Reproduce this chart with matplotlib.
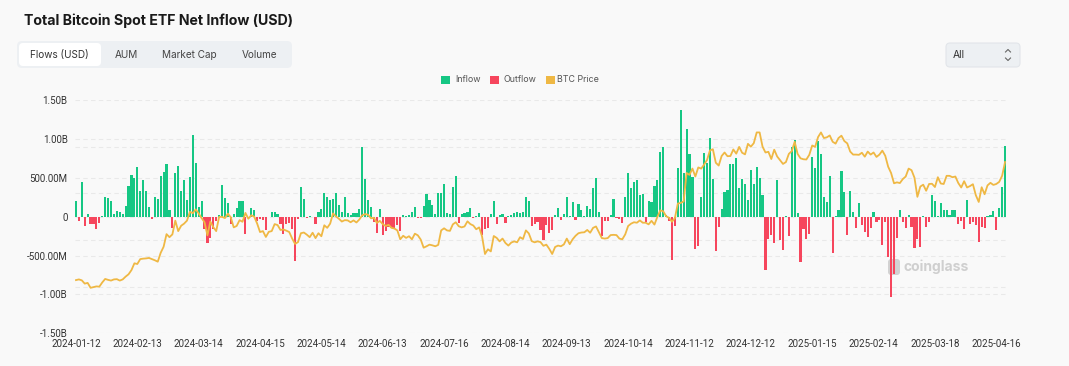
import matplotlib
matplotlib.use('Agg')
import matplotlib.pyplot as plt
import numpy as np
import pandas as pd
from matplotlib.patches import FancyBboxPatch, Rectangle
from matplotlib.lines import Line2D

W, H, DPI = 1069, 366, 100

# ---------------- data ----------------
start_date = '2024-01-12'
end_date = '2025-04-22'
market_holidays = ['2024-01-15', '2024-02-19', '2024-03-29', '2024-05-27', '2024-06-19',
                   '2024-07-04', '2024-09-02', '2024-11-28', '2024-12-25', '2025-01-01',
                   '2025-01-09', '2025-01-20', '2025-02-17', '2025-04-18']

# daily net flow, million USD
flows_musd = [
    196, -57, 448, -126, 39, -91, -100, -165, -87, 9,
    252, 244, 196, 35, 74, 61, 30, 139, 400, 539,
    496, 639, 335, 474, 326, 130, -35, 248, 231, 518,
    579, 674, 87, -144, 566, 648, 326, 470, 218, 505,
    1053, 687, 130, 196, -161, -335, -270, -155, -57, 15,
    413, 239, 174, -91, 35, 109, 204, 196, -226, -18,
    117, 83, -52, -35, -48, -174, -5, 57, 57, 30,
    -100, -226, -91, -87, -161, -574, -35, 378, 222, -13,
    9, -5, -91, 57, 96, 305, 257, 209, 231, 305,
    152, 65, 248, 43, 22, 43, 48, 100, 892, 487,
    209, 122, -74, -209, 96, -230, -187, -130, -142, -151,
    -108, -181, 22, 13, 20, 65, 130, -22, -22, 139,
    291, 209, 148, 35, 305, 300, 422, 43, 35, 383,
    526, -83, 35, 43, 57, 117, -22, 5, 43, -239,
    -165, -152, 30, 200, -91, 22, 35, -83, 5, 22,
    43, 65, 52, 65, 248, 196, -126, -100, -74, -174,
    -300, -108, -216, -172, 22, 113, -48, 35, 257, 9,
    183, -48, 161, 87, 9, 135, 100, 365, 496, 57,
    -248, -56, -56, 22, 226, -22, -30, -87, 252, 557,
    374, 448, 470, 274, 291, -74, 196, 183, 400, 470,
    826, 900, 22, -56, -552, -117, 626, 1370, 566, 1131,
    805, 513, -413, -378, 252, 813, 696, 1014, 483, -444,
    -130, 100, 318, 348, 674, 683, 748, 370, 479, 426,
    218, 596, 426, 639, 492, 274, -687, -283, -230, -339,
    474, -305, -426, 9, -252, 900, 987, 52, -578, -161,
    -291, -218, 761, 631, 979, 805, 248, 187, 522, -465,
    13, 83, 587, 318, -239, 335, 65, -144, 170, -109,
    -196, -257, -144, 65, -65, -43, -370, -74, -522, -1035,
    -740, -280, 87, -74, -143, 22, -134, -409, -283, -390,
    13, -135, -65, 274, 204, 12, 170, 83, 84, 27,
    89, 89, -93, -60, -158, 218, -99, -64, -109, -326,
    -127, -149, 2, 15, 76, -170, 107, 381, 913,
]

# BTC price, thousand USD
btc_price_k = [
    42.8, 43.1, 42.7, 41.3, 41.6, 39.5, 39.8, 40.1, 40.0, 41.8,
    43.3, 42.9, 42.6, 43.1, 43.2, 42.6, 43.1, 44.3, 45.3, 47.1,
    50.0, 49.7, 51.8, 52.0, 52.1, 52.3, 51.8, 51.3, 50.7, 54.5,
    57.1, 62.5, 61.2, 62.4, 68.3, 63.8, 66.1, 67.0, 68.3, 72.1,
    71.5, 73.1, 71.4, 69.4, 67.6, 62.0, 67.9, 65.5, 63.8, 69.9,
    69.9, 69.4, 71.3, 69.7, 65.4, 66.0, 68.5, 67.8, 71.6, 69.1,
    70.6, 70.0, 67.1, 63.4, 63.8, 61.3, 63.5, 63.8, 66.8, 66.4,
    64.3, 64.5, 64.0, 63.4, 60.6, 58.3, 59.1, 62.9, 63.2, 62.3,
    61.2, 63.1, 60.8, 62.9, 61.6, 66.3, 65.2, 67.0, 71.4, 70.1,
    69.1, 67.9, 68.5, 68.4, 67.6, 68.4, 67.5, 68.8, 70.6, 71.1,
    70.8, 69.3, 69.5, 67.3, 68.2, 66.8, 66.0, 66.5, 65.2, 64.9,
    64.1, 60.3, 61.8, 60.9, 61.6, 60.3, 62.7, 62.0, 60.2, 56.7,
    57.3, 58.0, 57.7, 57.3, 57.9, 64.1, 65.0, 64.1, 63.9, 66.7,
    67.6, 65.9, 65.4, 65.8, 68.0, 66.8, 66.2, 64.6, 65.4, 61.5,
    54.0, 56.0, 55.1, 61.7, 60.9, 59.4, 60.6, 58.7, 57.6, 58.9,
    59.4, 59.0, 61.2, 60.4, 64.1, 62.8, 59.5, 59.0, 59.4, 59.1,
    57.5, 58.0, 56.2, 54.0, 57.0, 57.6, 57.3, 58.1, 60.6, 58.2,
    60.3, 61.8, 62.9, 63.2, 63.3, 64.3, 63.1, 65.2, 65.8, 63.3,
    60.8, 60.6, 60.8, 62.1, 62.2, 62.1, 60.6, 60.3, 62.4, 66.0,
    67.0, 67.6, 67.4, 68.4, 67.4, 67.4, 66.7, 68.2, 66.6, 69.9,
    72.7, 72.3, 70.2, 69.5, 67.8, 69.4, 75.6, 75.9, 76.5, 88.7,
    87.9, 90.6, 87.2, 91.1, 90.6, 92.3, 94.3, 98.4, 98.9, 93.1,
    91.9, 96.0, 97.5, 95.9, 96.0, 98.8, 97.0, 99.9, 97.4, 96.7,
    101.2, 100.0, 101.5, 106.1, 106.1, 100.0, 97.5, 97.8, 94.7, 98.7,
    95.8, 94.2, 92.6, 93.4, 96.9, 98.1, 102.1, 96.9, 95.0, 94.6,
    94.5, 96.5, 100.5, 99.9, 104.1, 106.1, 103.7, 104.0, 104.8, 102.1,
    101.3, 103.7, 104.7, 102.4, 101.4, 97.9, 96.6, 96.6, 96.5, 97.4,
    95.7, 97.9, 96.6, 97.5, 95.6, 96.6, 98.3, 96.1, 91.4, 88.7,
    84.3, 84.7, 84.4, 86.1, 87.2, 90.6, 89.9, 86.7, 78.5, 82.9,
    83.7, 81.1, 84.0, 84.1, 82.7, 86.9, 84.2, 84.0, 87.5, 87.5,
    86.9, 87.2, 84.4, 82.5, 85.2, 82.5, 83.1, 83.9, 79.2, 76.3,
    82.6, 79.6, 83.4, 84.5, 83.6, 84.0, 84.9, 87.5, 93.4,
]

tick_every = 21
flow_ticks = [-1500, -1000, -500, 0, 500, 1000, 1500]
flow_tick_labels = ['-1.50B', '-1.00B', '-500.00M', '0', '500.00M', '1.00B', '1.50B']
price_range_k = (20, 120)
price_grid_k = [40, 60, 80, 100]
tab_labels = ['Flows (USD)', 'AUM', 'Market Cap', 'Volume']
legend_labels = ['Inflow', 'Outflow', 'BTC Price']

# ---------------- style ----------------
BG = '#f9f9f9'
GREEN = '#16c784'
RED = '#f6465d'
GOLD = '#efb844'
GRID = '#e9e9e9'
TXT = '#333333'
TICKFONT = ['Roboto', 'DejaVu Sans']
UI = ['Inter', 'DejaVu Sans']

dates = pd.bdate_range(start_date, end_date, freq='C', holidays=market_holidays)
date_labels = [d.strftime('%Y-%m-%d') for d in dates]
n = len(flows_musd)
x = np.arange(n)
flows = np.array(flows_musd, dtype=float)

fig = plt.figure(figsize=(W / DPI, H / DPI), dpi=DPI, facecolor=BG)

# overlay for UI decorations in pixel coordinates
ui = fig.add_axes([0, 0, 1, 1], zorder=0)
ui.set_xlim(0, W)
ui.set_ylim(H, 0)
ui.set_axis_off()

ui.text(24, 21, 'Total Bitcoin Spot ETF Net Inflow (USD)', fontsize=10.2, fontweight='bold',
        color='#1a1a1a', family=UI, ha='left', va='center')

ui.add_patch(FancyBboxPatch((17, 41), 275, 27, boxstyle='round,pad=0,rounding_size=5',
                            fc='#edf0f3', ec='none'))
ui.add_patch(FancyBboxPatch((19, 43), 82, 23, boxstyle='round,pad=0,rounding_size=4',
                            fc='white', ec='none'))
tab_centers = [59.5, 126, 189.5, 259.5]
for lab, cx in zip(tab_labels, tab_centers):
    ui.text(cx, 55, lab, fontsize=7.2, color='#444444' if lab != tab_labels[0] else '#333333',
            family=UI, ha='center', va='center')

ui.add_patch(FancyBboxPatch((946, 43), 74, 24, boxstyle='round,pad=0,rounding_size=4',
                            fc='#edf0f3', ec='#e2e5ea', lw=0.8))
ui.text(953, 55, 'All', fontsize=7.4, color='#333333', family=UI, ha='left', va='center')
ui.add_line(Line2D([1005.5, 1008, 1010.5], [52, 49.5, 52], color='#666666', lw=0.8))
ui.add_line(Line2D([1005.5, 1008, 1010.5], [58, 60.5, 58], color='#666666', lw=0.8))

# legend
leg_items = [(441, 455, GREEN), (490, 504, RED), (546, 557, GOLD)]
for (sx, tx, col), lab in zip(leg_items, legend_labels):
    ui.add_patch(Rectangle((sx, 75.5), 8.5, 8.5, fc=col, ec='none'))
    ui.text(tx, 80, lab, fontsize=6.4, color='#555555', family=UI, ha='left', va='center')

# watermark
ui.add_patch(FancyBboxPatch((888, 259), 12, 16, boxstyle='round,pad=0,rounding_size=3',
                            fc='#d2d2d2', ec='none'))
ui.text(904, 267, 'coinglass', fontsize=10, fontweight='bold', color='#cfcfcf',
        family=UI, ha='left', va='center')

# ---------------- main chart ----------------
left, right, top, bottom = 74.5, 1006.5, 100.0, 333.3
ax = fig.add_axes([left / W, 1 - bottom / H, (right - left) / W, (bottom - top) / H], zorder=2)
ax.set_facecolor('none')
colors = [GREEN if v >= 0 else RED for v in flows]
ax.bar(x, flows, width=0.74, color=colors, linewidth=0, zorder=3)
ax.set_xlim(-0.5, n - 0.5)
ax.set_ylim(flow_ticks[0], flow_ticks[-1])
ax.set_yticks(flow_ticks)
ax.set_yticklabels(flow_tick_labels)
tick_idx = list(range(0, n, tick_every))
ax.set_xticks(tick_idx)
ax.set_xticklabels([date_labels[i] for i in tick_idx])
for lab in ax.get_xticklabels() + ax.get_yticklabels():
    lab.set_fontfamily(TICKFONT)
    lab.set_fontsize(7.0)
    lab.set_color(TXT)
ax.tick_params(axis='both', length=0)
ax.tick_params(axis='y', pad=5)
ax.tick_params(axis='x', pad=4)
for s in ax.spines.values():
    s.set_visible(False)
ax.set_axisbelow(True)
ax.yaxis.grid(True, linestyle=(0, (4, 3)), color=GRID, lw=0.8)
# secondary (price) axis grid lines, mapped into flow units
pmin, pmax = price_range_k
for p in price_grid_k:
    yv = flow_ticks[0] + (p - pmin) / (pmax - pmin) * (flow_ticks[-1] - flow_ticks[0])
    ax.axhline(yv, linestyle=(0, (4, 3)), color=GRID, lw=0.8, zorder=0)

ax2 = ax.twinx()
ax2.plot(x, btc_price_k, color=GOLD, lw=1.3, solid_joinstyle='round', zorder=4)
ax2.set_ylim(pmin, pmax)
ax2.set_yticks([])
for s in ax2.spines.values():
    s.set_visible(False)

fig.savefig('out.png', dpi=DPI, facecolor=BG)
